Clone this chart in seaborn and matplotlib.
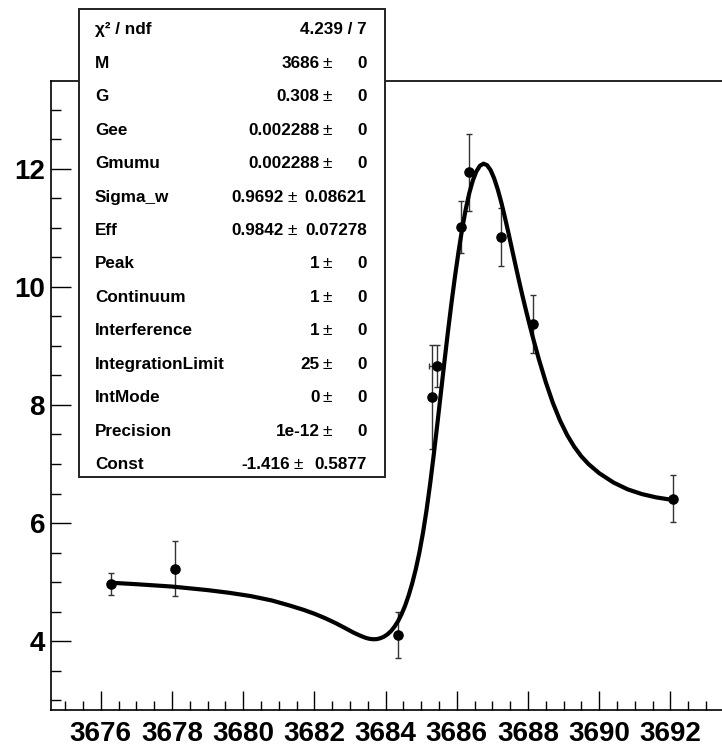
import numpy as np
import pandas as pd
import matplotlib
matplotlib.use("Agg")
import matplotlib.pyplot as plt
from matplotlib.patches import Rectangle
from matplotlib.ticker import MultipleLocator
import seaborn as sns

# ---------------- data ----------------
data_x = [3676.28, 3678.09, 3684.35, 3685.29, 3685.43, 3686.11, 3686.35, 3687.23, 3688.13, 3692.08]
data_y = [4.97, 5.23, 4.10, 8.13, 8.66, 11.01, 11.94, 10.84, 9.37, 6.41]
data_yerr = [0.19, 0.47, 0.39, 0.88, 0.36, 0.44, 0.65, 0.49, 0.49, 0.40]
data_xerr = [0.0, 0.0, 0.0, 0.0, 0.21, 0.0, 0.0, 0.0, 0.0, 0.0]

# fitted curve
fit_x = [3676.28, 3677.0, 3678.0, 3679.0, 3679.6, 3680.2, 3680.8, 3681.3, 3681.7, 3682.0,
         3682.3, 3682.6, 3682.9, 3683.1, 3683.3, 3683.45, 3683.55, 3683.65, 3683.75, 3683.85,
         3683.95, 3684.05, 3684.15, 3684.25, 3684.35, 3684.45, 3684.55, 3684.65, 3684.75, 3684.85,
         3684.95, 3685.05, 3685.15, 3685.25, 3685.35, 3685.45, 3685.55, 3685.65, 3685.75, 3685.85,
         3685.95, 3686.05, 3686.15, 3686.25, 3686.35, 3686.45, 3686.55, 3686.65, 3686.75, 3686.85,
         3686.95, 3687.05, 3687.15, 3687.25, 3687.35, 3687.45, 3687.55, 3687.65, 3687.75, 3687.85,
         3687.95, 3688.05, 3688.15, 3688.3, 3688.5, 3688.7, 3688.9, 3689.1, 3689.3, 3689.5,
         3689.7, 3690.0, 3690.4, 3690.8, 3691.2, 3691.6, 3692.08]
fit_y = [4.99, 4.965, 4.925, 4.865, 4.82, 4.765, 4.69, 4.605, 4.53, 4.465,
         4.39, 4.305, 4.21, 4.145, 4.09, 4.055, 4.04, 4.033, 4.035, 4.05,
         4.075, 4.115, 4.17, 4.245, 4.34, 4.46, 4.605, 4.78, 4.985, 5.225,
         5.505, 5.835, 6.22, 6.66, 7.145, 7.66, 8.19, 8.72, 9.235, 9.725,
         10.18, 10.60, 10.98, 11.31, 11.585, 11.80, 11.955, 12.05, 12.085, 12.06,
         11.975, 11.835, 11.65, 11.43, 11.18, 10.915, 10.64, 10.365, 10.095, 9.835,
         9.585, 9.345, 9.115, 8.785, 8.385, 8.033, 7.736, 7.491, 7.291, 7.129,
         6.999, 6.845, 6.687, 6.571, 6.491, 6.435, 6.39]

x_ticks = [3676, 3678, 3680, 3682, 3684, 3686, 3688, 3690, 3692]
y_ticks = [4, 6, 8, 10, 12]

chi2_label = "χ² / ndf"
chi2_value = "4.239 / 7"
param_names = ["M", "G", "Gee", "Gmumu", "Sigma_w", "Eff", "Peak", "Continuum",
               "Interference", "IntegrationLimit", "IntMode", "Precision", "Const"]
param_values = ["3686", "0.308", "0.002288", "0.002288", "0.9692", "0.9842", "1", "1",
                "1", "25", "0", "1e-12", "-1.416"]
param_errors = ["0", "0", "0", "0", "0.08621", "0.07278", "0", "0",
                "0", "0", "0", "0", "0.5877"]

# ---------------- style ----------------
sns.set_style("white")
plt.rcParams['font.family'] = ['Liberation Sans', 'DejaVu Sans']
plt.rcParams['font.weight'] = 'bold'
plt.rcParams['text.color'] = 'black'
plt.rcParams['xtick.color'] = 'black'
plt.rcParams['ytick.color'] = 'black'
plt.rcParams['xtick.labelcolor'] = 'black'
plt.rcParams['ytick.labelcolor'] = 'black'

W, H = 722, 746
fig = plt.figure(figsize=(W / 100, H / 100), dpi=100)
fig.patch.set_facecolor('white')

L, R, T, B = 51, 722, 80.7, 710.3
ax = fig.add_axes([L / W, (H - B) / H, (R - L) / W, (B - T) / H])
ax.set_facecolor('white')

pts = pd.DataFrame({"x": data_x, "y": data_y})
fit = pd.DataFrame({"x": fit_x, "y": fit_y})

ax.errorbar(data_x, data_y, yerr=data_yerr, xerr=data_xerr, fmt='none',
            ecolor='#333333', elinewidth=1.0, capsize=2.3, capthick=1.0, zorder=2)
sns.lineplot(data=fit, x="x", y="y", sort=False, estimator=None, color='black',
             linewidth=3.0, ax=ax, zorder=3)
sns.scatterplot(data=pts, x="x", y="y", color='black', s=58, edgecolor='black',
                linewidth=0, ax=ax, zorder=4)

ax.set_xlim(3674.60, 3693.45)
ax.set_ylim(2.83, 13.49)
ax.set_xlabel("")
ax.set_ylabel("")

ax.set_xticks(x_ticks)
ax.set_yticks(y_ticks)
ax.xaxis.set_minor_locator(MultipleLocator(0.5))
ax.yaxis.set_minor_locator(MultipleLocator(0.5))

ax.tick_params(axis='x', which='major', direction='in', length=13.5, width=1.0,
               color='black', pad=7.5, labelsize=20, labelcolor='black', top=False, bottom=True)
ax.tick_params(axis='x', which='minor', direction='in', length=6.7, width=1.0,
               color='black', top=False, bottom=True)
ax.tick_params(axis='y', which='major', direction='in', length=14.4, width=1.0,
               color='black', pad=4.3, labelsize=20, labelcolor='black', left=True, right=False)
ax.tick_params(axis='y', which='minor', direction='in', length=7.2, width=1.0,
               color='black', left=True, right=False)
for lab in ax.get_xticklabels() + ax.get_yticklabels():
    lab.set_fontweight('bold')

for side in ['left', 'bottom', 'top']:
    ax.spines[side].set_visible(True)
    ax.spines[side].set_color('black')
    ax.spines[side].set_linewidth(1.2)
ax.spines['right'].set_visible(False)

# ---------------- stats box ----------------
def fx(px):
    return px / W

def fy(py):
    return 1 - py / H

bx0, bx1, by0, by1 = 79, 385, 9.3, 477.3
box = Rectangle((fx(bx0), fy(by1)), fx(bx1) - fx(bx0), fy(by0) - fy(by1),
                transform=fig.transFigure, facecolor='white', edgecolor='#222222',
                linewidth=1.4, zorder=10)
fig.patches.append(box)

fs = 12.3
name_x = 95
err_right = 366.7
row0 = 28.3
row_step = 33.45
cap_half = 6.0

fig.text(fx(name_x), fy(row0 + cap_half), chi2_label, fontsize=fs, fontweight='bold',
         ha='left', va='baseline', color='black', zorder=11)
fig.text(fx(err_right), fy(row0 + cap_half), chi2_value, fontsize=fs, fontweight='bold',
         ha='right', va='baseline', color='black', zorder=11)

for i, (nm, val, err) in enumerate(zip(param_names, param_values, param_errors)):
    yb = row0 + row_step * (i + 1) + cap_half
    if err == "0":
        pm_c = 327.5
    elif nm == "Const":
        pm_c = 298.0
    else:
        pm_c = 292.0
    fig.text(fx(name_x), fy(yb), nm, fontsize=fs, fontweight='bold',
             ha='left', va='baseline', color='black', zorder=11)
    fig.text(fx(pm_c - 8.0), fy(yb), val, fontsize=fs, fontweight='bold',
             ha='right', va='baseline', color='black', zorder=11)
    fig.text(fx(pm_c), fy(yb), "±", fontsize=fs, fontweight='normal',
             ha='center', va='baseline', color='black', zorder=11)
    fig.text(fx(err_right), fy(yb), err, fontsize=fs, fontweight='bold',
             ha='right', va='baseline', color='black', zorder=11)

fig.savefig("out.png", dpi=100, facecolor='white')
